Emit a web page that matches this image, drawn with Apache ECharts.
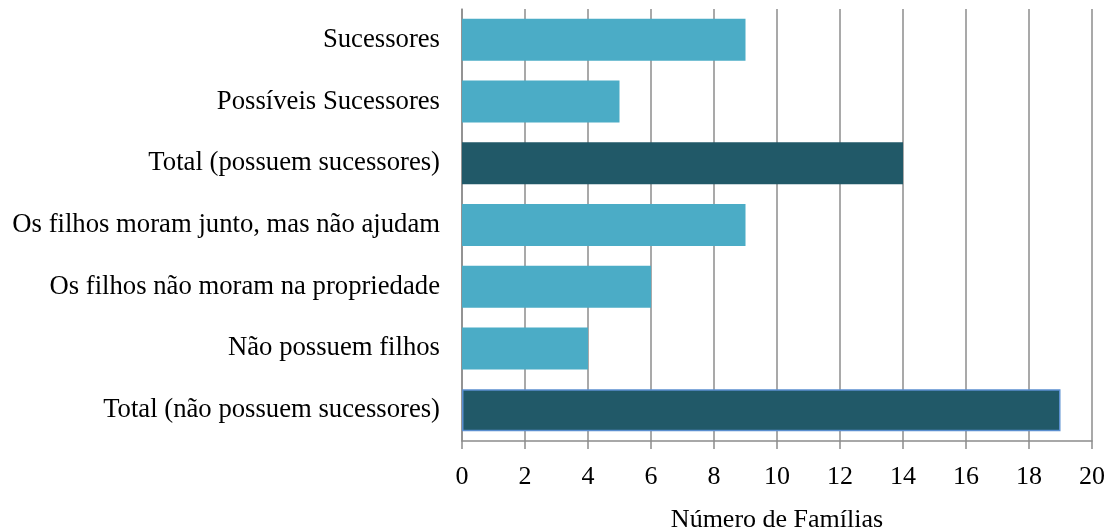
<!DOCTYPE html>
<html><head><meta charset="utf-8">
<script src="https://cdn.jsdelivr.net/npm/echarts@6/dist/echarts.min.js"></script>
<style>html,body{margin:0;padding:0;background:#fff}#c{width:1112px;height:531px}</style>
</head><body><div id="c"></div>
<script>
const categories = [
  'Sucessores',
  'Possíveis Sucessores',
  'Total (possuem sucessores)',
  'Os filhos moram junto, mas não ajudam',
  'Os filhos não moram na propriedade',
  'Não possuem filhos',
  'Total (não possuem sucessores)'
];
const values = [9, 5, 14, 9, 6, 4, 19];
const isTotal = [false, false, true, false, false, false, true];
const xTicks = [0, 2, 4, 6, 8, 10, 12, 14, 16, 18, 20];

const light = '#4BACC6', dark = '#215968';
const chart = echarts.init(document.getElementById('c'));
chart.setOption({
  animation: false,
  grid: {left: 462, right: 20, top: 9, bottom: 90, containLabel: false, outerBoundsMode: 'none'},
  xAxis: {
    type: 'value', min: xTicks[0], max: xTicks[xTicks.length - 1], interval: 2,
    name: 'Número de Famílias', nameLocation: 'middle', nameGap: 66,
    nameTextStyle: {fontFamily: 'Liberation Serif', fontSize: 26, color: '#000'},
    axisLine: {show: true, lineStyle: {color: '#8c8c8c', width: 1.5}},
    axisTick: {show: true, length: 8, lineStyle: {color: '#8c8c8c', width: 1.5}},
    axisLabel: {fontFamily: 'Liberation Serif', fontSize: 26, color: '#000', margin: 23},
    splitLine: {show: true, lineStyle: {color: '#8c8c8c', width: 1.5}}
  },
  yAxis: {
    type: 'category', data: categories, inverse: true,
    axisLine: {show: true, lineStyle: {color: '#8c8c8c', width: 1.5}},
    axisTick: {show: false},
    axisLabel: {fontFamily: 'Liberation Serif', fontSize: 26.7, color: '#000', margin: 22}
  },
  series: [{
    type: 'bar', barWidth: '68%',
    data: values.map((v, i) => ({
      value: v,
      itemStyle: isTotal[i]
        ? {color: dark, borderColor: i === values.length - 1 ? '#5b8fd0' : dark, borderWidth: i === values.length - 1 ? 1.5 : 0}
        : {color: light}
    }))
  }]
});
</script></body></html>
